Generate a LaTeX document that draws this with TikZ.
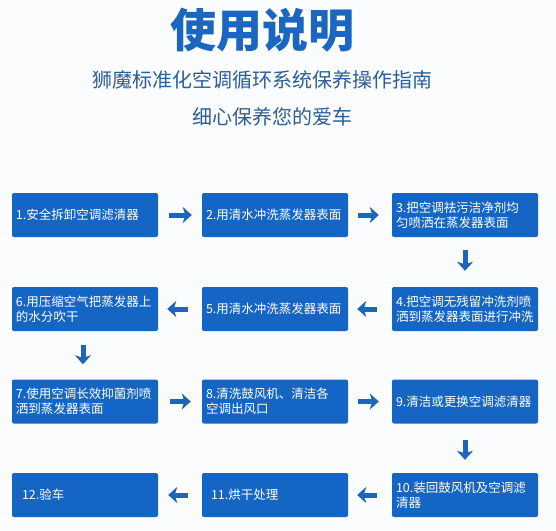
\documentclass[tikz,border=0pt]{standalone}
\usepackage{fontspec}
\setmainfont{Noto Sans CJK SC}
\usetikzlibrary{arrows.meta}
\definecolor{bgc}{HTML}{FBFCFD}
\definecolor{boxblue}{HTML}{1565C4}
\definecolor{titleblue}{HTML}{1A66C0}
\definecolor{subblue}{HTML}{2C5E98}
\definecolor{arrblue}{HTML}{1C64BC}
\tikzset{
  x=1pt,y=1pt,
  stepbox/.style={fill=boxblue, rounded corners=2pt, minimum width=146pt, minimum height=44pt,
    text width=138pt, inner xsep=4pt, inner ysep=0pt, align=left, text=white,
    font=\fontsize{12.5}{15}\selectfont},
  flow/.style={draw=arrblue, line width=5pt, -{Stealth[length=9pt,width=16pt,inset=2.5pt]}},
}
\begin{document}
\begin{tikzpicture}
\fill[bgc] (0,0) rectangle (556,-530);
\useasboundingbox (0,0) rectangle (556,-530);
\node[text=titleblue, font=\fontsize{46}{50}\selectfont\bfseries, inner sep=0pt] (title) at (262,-30) {使用说明};
\node[text=subblue, font=\fontsize{20}{24}\selectfont, inner sep=0pt] (sub) at (262,-80) {狮魔标准化空调循环系统保养操作指南};
\node[text=subblue, font=\fontsize{20}{24}\selectfont, inner sep=0pt] (sub2) at (272,-117) {细心保养您的爱车};

\node[stepbox] (b1) at (85,-215) {1.安全拆卸空调滤清器};
\node[stepbox] (b2) at (275,-215) {2.用清水冲洗蒸发器表面};
\node[stepbox] (b3) at (465,-215) {3.把空调祛污洁净剂均\\匀喷洒在蒸发器表面};
\node[stepbox] (b4) at (465,-309) {4.把空调无残留冲洗剂喷\\洒到蒸发器表面进行冲洗};
\node[stepbox] (b5) at (275,-309) {5.用清水冲洗蒸发器表面};
\node[stepbox] (b6) at (85,-309) {6.用压缩空气把蒸发器上\\的水分吹干};
\node[stepbox] (b7) at (85,-401.5) {7.使用空调长效抑菌剂喷\\洒到蒸发器表面};
\node[stepbox] (b8) at (275,-401.5) {8.清洗鼓风机、清洁各\\空调出风口};
\node[stepbox] (b9) at (465,-401.5) {9.清洁或更换空调滤清器};
\node[stepbox] (b10) at (465,-495) {10.装回鼓风机及空调滤\\清器};
\node[stepbox] (b11) at (275,-495) {\hspace{5pt}11.烘干处理};
\node[stepbox] (b12) at (85,-495) {\hspace{6pt}12.验车};

\draw[flow, shorten <=11pt, shorten >=10pt] (b1) -- (b2);
\draw[flow, shorten <=10pt, shorten >=13pt] (b2) -- (b3);
\draw[flow, shorten <=13pt, shorten >=16pt] (b3.south) -- (b4.north);
\draw[flow, shorten <=15pt, shorten >=9pt] (b4) -- (b5);
\draw[flow, shorten <=14pt, shorten >=9pt] (b5) -- (b6);
\draw[flow, shorten <=14pt, shorten >=15pt] ([xshift=-2pt]b6.south) -- ([xshift=-2pt]b7.north);
\draw[flow, shorten <=12pt, shorten >=11pt] (b7) -- (b8);
\draw[flow, shorten <=10pt, shorten >=13pt] (b8) -- (b9);
\draw[flow, shorten <=16pt, shorten >=13pt] (b9.south) -- (b10.north);
\draw[flow, shorten <=15pt, shorten >=9pt] (b10) -- (b11);
\draw[flow, shorten <=14pt, shorten >=10pt] (b11) -- (b12);
\end{tikzpicture}
\end{document}
